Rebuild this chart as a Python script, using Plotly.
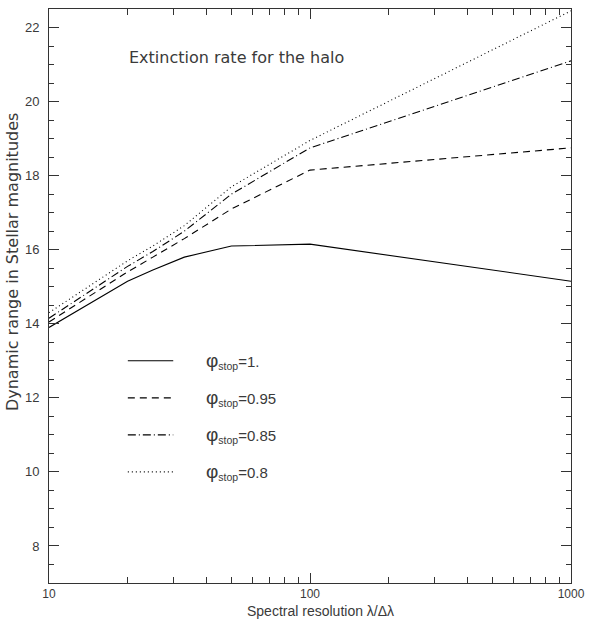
import plotly.graph_objects as go

resolution = [10, 20, 25, 33, 50, 100, 1000]
phi_1 = [13.9, 15.15, 15.45, 15.8, 16.1, 16.15, 15.15]
phi_095 = [14.05, 15.4, 15.8, 16.3, 17.1, 18.15, 18.75]
phi_085 = [14.15, 15.55, 15.95, 16.5, 17.5, 18.75, 21.1]
phi_080 = [14.3, 15.7, 16.1, 16.65, 17.7, 18.95, 22.45]

series_labels = ["1.", "0.95", "0.85", "0.8"]
legend_y = [13, 12, 11, 10]
dashes = ["solid", "7px,5px", "8px,3px,1px,3px", "1px,3px"]
series = [phi_1, phi_095, phi_085, phi_080]

x_ticks = [10, 100, 1000]
y_ticks = [8, 10, 12, 14, 16, 18, 20, 22]

fig = go.Figure()
for vals, dash in zip(series, dashes):
    fig.add_trace(go.Scatter(x=resolution, y=vals, mode="lines",
                             line=dict(color="black", width=1.1, dash=dash),
                             showlegend=False, hoverinfo="skip"))

txt = "#3a3a3a"
font = dict(family="Liberation Sans, Arial, sans-serif", size=13, color=txt)
wide = "DejaVu Sans, Verdana, sans-serif"

shapes = []
annotations = []
for lab, yy, dash in zip(series_labels, legend_y, dashes):
    shapes.append(dict(type="line", xref="paper", yref="y", x0=0.151, x1=0.238,
                       y0=yy, y1=yy, line=dict(color="black", width=1.1, dash=dash)))
    annotations.append(dict(xref="paper", yref="y", x=0.298, y=yy, xanchor="left",
                            yanchor="middle", showarrow=False, borderpad=0,
                            text="<span style='font-size:19px'>φ</span><sub>stop</sub>=" + lab,
                            font=dict(family="Liberation Sans, Arial, sans-serif", size=15, color=txt)))

annotations.append(dict(xref="paper", yref="y", x=0.151, y=21.2, xanchor="left",
                        yanchor="middle", showarrow=False, borderpad=0,
                        text="Extinction rate for the halo",
                        font=dict(family=wide, size=16, color=txt)))
# axis titles
annotations.append(dict(xref="paper", yref="paper", x=0.521, y=-0.048, xanchor="center",
                        yanchor="middle", showarrow=False, borderpad=0,
                        text="Spectral resolution λ/Δλ",
                        font=dict(family="Liberation Sans, Arial, sans-serif", size=14, color=txt)))
annotations.append(dict(xref="paper", yref="paper", x=-0.071, y=0.559, xanchor="center",
                        yanchor="middle", showarrow=False, borderpad=0, textangle=-90,
                        text="Dynamic range in Stellar magnitudes",
                        font=dict(family=wide, size=16, color=txt)))

fig.update_layout(
    width=589, height=624,
    margin=dict(l=49, r=18, t=9, b=41, autoexpand=False),
    paper_bgcolor="white", plot_bgcolor="white",
    font=font,
    shapes=shapes, annotations=annotations,
    showlegend=False,
)
fig.update_xaxes(type="log", range=[1, 3], tickvals=x_ticks, ticktext=[str(v) for v in x_ticks],
                 automargin=False, ticklabeloverflow="allow", ticklabelstandoff=0,
                 tickfont=dict(size=12),
                 ticks="inside", ticklen=10, tickwidth=1, tickcolor="#333",
                 showline=True, linecolor="#333", linewidth=1, mirror="ticks",
                 showgrid=False, zeroline=False,
                 minor=dict(ticks="inside", ticklen=6, tickcolor="#333", dtick="D1", showgrid=False))
fig.update_yaxes(range=[7, 22.5], tickvals=y_ticks,
                 automargin=False, ticklabelstandoff=6,
                 ticks="inside", ticklen=10, tickwidth=1, tickcolor="#333",
                 showline=True, linecolor="#333", linewidth=1, mirror="ticks",
                 showgrid=False, zeroline=False,
                 minor=dict(ticks="inside", ticklen=5, tickcolor="#333", dtick=0.5, showgrid=False))

fig.write_html("out.html", config={"displayModeBar": False},
               post_script="document.body.style.margin='0';document.body.style.padding='0';")
